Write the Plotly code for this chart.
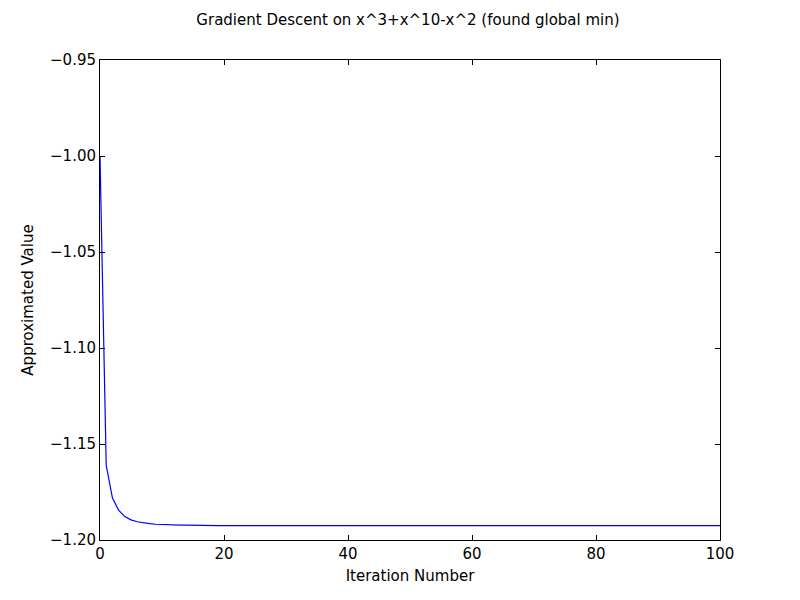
import plotly.graph_objects as go

# values
head = [-1.000, -1.161, -1.178, -1.1845, -1.1878, -1.1895, -1.1905, -1.1911,
        -1.1915, -1.1918, -1.1920, -1.1921, -1.1922, -1.1923, -1.1923, -1.1924]
tail = [-1.1925] * (101 - len(head))
y_vals = head + tail
x_vals = list(range(len(y_vals)))

x_ticks = [0, 20, 40, 60, 80, 100]
y_ticks = [-1.20, -1.15, -1.10, -1.05, -1.00, -0.95]

fig = go.Figure()
fig.add_trace(go.Scatter(x=x_vals, y=y_vals, mode='lines',
                         line=dict(color='blue', width=1.2), showlegend=False))

axis_common = dict(showline=True, linecolor='black', linewidth=1, mirror='ticks',
                   ticks='inside', ticklen=5, tickcolor='black', showgrid=False,
                   zeroline=False, tickfont=dict(size=15, color='black'),
                   title_font=dict(size=15, color='black'))

# page body adds ~8px offset, so margins compensate
fig.update_layout(
    width=800, height=600,
    paper_bgcolor='white', plot_bgcolor='white',
    font=dict(family='DejaVu Sans', color='black'),
    margin=dict(l=92, r=88, t=52, b=68),
    title=dict(text='Gradient Descent on x^3+x^10-x^2 (found global min)',
               x=0.5, xanchor='center', y=0.98, yanchor='middle',
               font=dict(size=15)),
    xaxis=dict(range=[0, 100], tickvals=x_ticks, ticktext=[str(v) for v in x_ticks],
               title=dict(text='Iteration Number', standoff=8), **axis_common),
    yaxis=dict(range=[-1.20, -0.95], tickvals=y_ticks,
               ticktext=['\u2212' + f'{abs(v):.2f}' for v in y_ticks],
               title=dict(text='Approximated Value', standoff=12), **axis_common),
)

fig.write_html("out.html")
